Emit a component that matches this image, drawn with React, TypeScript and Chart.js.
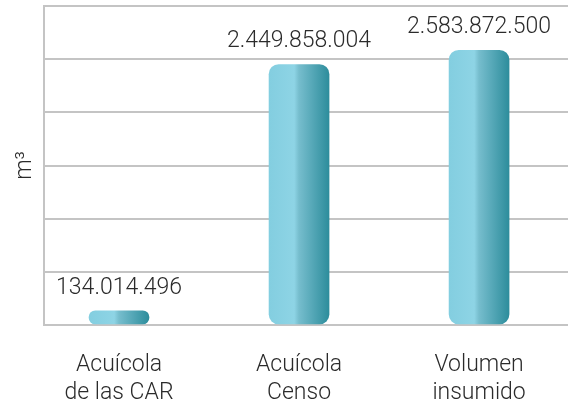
import React, { useEffect, useRef } from 'react';
import { Chart, registerables } from 'chart.js';

Chart.register(...registerables);

const categories: string[][] = [
  ['Acuícola', 'de las CAR'],
  ['Acuícola', 'Censo'],
  ['Volumen', 'insumido'],
];
const values: number[] = [134014496, 2449858004, 2583872500];
const yAxisTitle = 'm³';
const Y_MIN = 0;
const Y_MAX = 3000000000;
const Y_STEP = 500000000;

const FONT = "Roboto, 'Liberation Sans', sans-serif";
const FONT_SIZE = 23;
const TEXT = '#2b2b2b';
const GRID = '#c4c4c4';

const fmt = (v: number) => String(Math.round(v)).replace(/\B(?=(\d{3})+(?!\d))/g, '.');

const valueLabels = {
  id: 'valueLabels',
  afterDatasetsDraw(chart: any) {
    const ctx = chart.ctx;
    const meta = chart.getDatasetMeta(0);
    ctx.save();
    ctx.font = `300 ${FONT_SIZE}px ${FONT}`;
    ctx.fillStyle = TEXT;
    ctx.textAlign = 'center';
    ctx.textBaseline = 'alphabetic';
    meta.data.forEach((el: any, i: number) => {
      const top = Math.min(el.y, el.base);
      ctx.fillText(fmt(values[i]), el.x, top - 17);
    });
    ctx.restore();
  },
};

export default function App() {
  const ref = useRef<HTMLCanvasElement | null>(null);

  useEffect(() => {
    if (!ref.current) return;
    const chart = new Chart(ref.current, {
      type: 'bar',
      data: {
        datasets: [
          {
            data: values.map((v, i) => ({ x: i, y: v })),
            barThickness: 60,
            borderRadius: 10,
            borderSkipped: false,
            backgroundColor: (c: any) => {
              const ch = c.chart;
              const xs = ch.scales && ch.scales.x;
              if (!xs || c.dataIndex === undefined) return '#7cc9da';
              const cx = xs.getPixelForValue(c.dataIndex);
              if (!isFinite(cx)) return '#7cc9da';
              const g = ch.ctx.createLinearGradient(cx - 30, 0, cx + 30, 0);
              g.addColorStop(0, '#83cee0');
              g.addColorStop(0.42, '#8ed4e5');
              g.addColorStop(0.5, '#76bdcd');
              g.addColorStop(1, '#2d8d9c');
              return g;
            },
          },
        ],
      },
      options: {
        responsive: false,
        animation: false,
        devicePixelRatio: 1,
        layout: { padding: { top: 6, right: 0, left: 0, bottom: 0 } },
        plugins: { legend: { display: false }, tooltip: { enabled: false } },
        scales: {
          x: {
            type: 'linear',
            offset: false,
            min: -0.4167,
            max: 2.494,
            grid: { display: false, drawTicks: false },
            border: { display: false },
            afterBuildTicks: (s: any) => {
              s.ticks = categories.map((_, i) => ({ value: i }));
            },
            afterFit: (s: any) => {
              s.height = 81;
            },
            ticks: {
              autoSkip: false,
              maxRotation: 0,
              minRotation: 0,
              padding: 26,
              color: TEXT,
              font: { family: FONT, size: FONT_SIZE, weight: '300', lineHeight: 1.217 },
              callback: (v: any) => categories[v] ?? '',
            },
          },
          y: {
            min: Y_MIN,
            max: Y_MAX,
            afterFit: (s: any) => {
              s.width = 44;
            },
            ticks: { display: false, stepSize: Y_STEP },
            grid: { color: GRID, lineWidth: 2, drawTicks: false },
            border: { display: true, color: GRID, width: 2 },
            title: {
              display: true,
              text: yAxisTitle,
              color: TEXT,
              font: { family: FONT, size: FONT_SIZE, weight: '300' },
              padding: { top: 11, bottom: 0 },
            },
          },
        },
      },
      plugins: [valueLabels],
    } as any);
    return () => chart.destroy();
  }, []);

  return (
    <div style={{ position: 'fixed', left: 0, top: 0, width: 568, height: 406 }}>
      <canvas ref={ref} width={568} height={406} />
    </div>
  );
}
